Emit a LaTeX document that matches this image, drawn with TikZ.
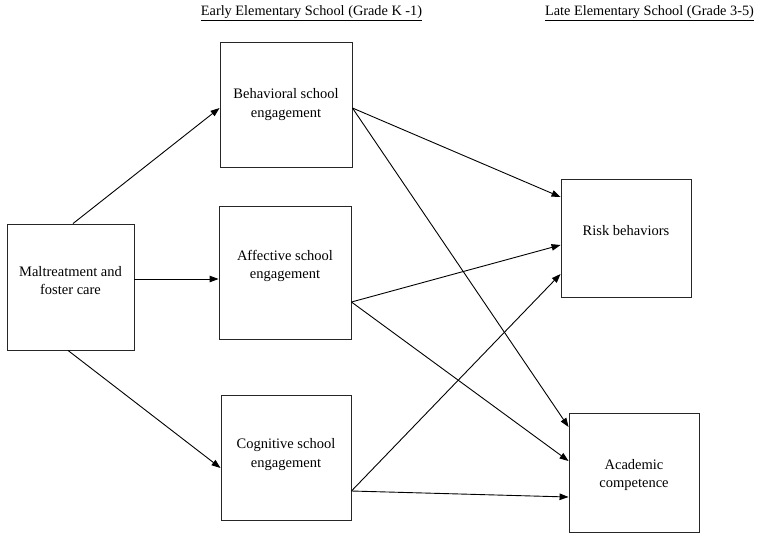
\documentclass[tikz,border=0pt]{standalone}
\usepackage{fontspec}
\setmainfont{Liberation Serif}
\usetikzlibrary{arrows.meta,calc}
\begin{document}
\begin{tikzpicture}[x=1pt,y=-1pt,
  box/.style={draw=black!85, line width=0.9pt, inner sep=0pt},
  txt/.style={align=center, font=\fontsize{14.5}{18.8}\selectfont},
  arr/.style={line width=0.9pt, -{Triangle[length=9pt,width=6.5pt]}},
  head/.style={font=\fontsize{14.3}{17}\selectfont}]
\useasboundingbox (0,0) rectangle (762,541);
\node[box, minimum width=127pt, minimum height=126pt,
  label={[txt,yshift=6.5pt]center:Maltreatment and\\foster care}] (mal) at (70.5,287) {};
\node[box, minimum width=132pt, minimum height=125pt,
  label={[txt,yshift=0pt]center:Behavioral school\\engagement}] (beh) at (286,104.5) {};
\node[box, minimum width=132pt, minimum height=133pt,
  label={[txt,yshift=6.5pt]center:Affective school\\engagement}] (aff) at (285,272.5) {};
\node[box, minimum width=130pt, minimum height=125pt,
  label={[txt,yshift=3pt]center:Cognitive school\\engagement}] (cog) at (286,457.5) {};
\node[box, minimum width=130pt, minimum height=118pt,
  label={[txt,yshift=7pt]center:Risk behaviors}] (risk) at (626,238) {};
\node[box, minimum width=130pt, minimum height=119pt,
  label={[txt,yshift=-2.5pt]center:Academic\\competence}] (acad) at (634,472.5) {};
\node[head] (h1) at (311.5,13) {\underline{Early Elementary School (Grade K -1)}};
\node[head] (h2) at (649.5,13) {\underline{Late Elementary School (Grade 3-5)}};
% arrows
\draw[arr] ([xshift=2.5pt]mal.north) -- ([yshift=-3.5pt]beh.west);
\draw[arr] ([yshift=8pt]mal.east) -- ([yshift=-6.5pt]aff.west);
\draw[arr] ([xshift=-2.5pt]mal.south) -- ([yshift=-10.5pt]cog.west);
\draw[arr] ([yshift=-3.5pt]beh.east) -- ([yshift=41pt]risk.west);
\draw[arr] ([yshift=-3.5pt]beh.east) -- ([yshift=45.5pt]acad.west);
\draw[arr] ([yshift=-29.5pt]aff.east) -- ([yshift=-7pt]risk.west);
\draw[arr] ([yshift=-29.5pt]aff.east) -- ([yshift=11.5pt]acad.west);
\draw[arr] ([yshift=-33.5pt]cog.east) -- ([yshift=-36pt]risk.west);
\draw[arr] ([yshift=-33.5pt]cog.east) -- ([yshift=-24.5pt]acad.west);
\end{tikzpicture}
\end{document}
